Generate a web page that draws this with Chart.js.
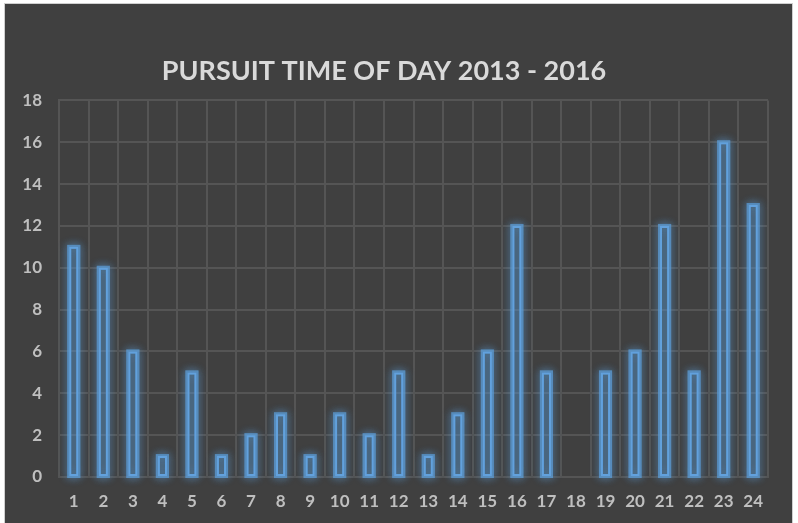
<!DOCTYPE html>
<html><head><meta charset="utf-8">
<script src="https://cdn.jsdelivr.net/npm/chart.js@4/dist/chart.umd.min.js"></script>
<style>
html,body{margin:0;padding:0;background:#ffffff;width:798px;height:523px;overflow:hidden}
#frame{position:absolute;left:4px;top:3px;width:787px;height:520px;background:#404040;border:1px solid #cfcfcf;border-bottom:none}
#c{position:absolute;left:0;top:0}
</style></head>
<body>
<div id="frame"></div>
<canvas id="c" width="798" height="523"></canvas>
<script>
const hours = ['1','2','3','4','5','6','7','8','9','10','11','12','13','14','15','16','17','18','19','20','21','22','23','24'];
const pursuits = [11,10,6,1,5,1,2,3,1,3,2,5,1,3,6,12,5,0,5,6,12,5,16,13];
const yTicks = [0,2,4,6,8,10,12,14,16,18];
const titleText = 'PURSUIT TIME OF DAY 2013 - 2016';

const glow = {
  id:'glow',
  beforeDatasetsDraw(chart){
    const ctx = chart.ctx;
    chart.getDatasetMeta(0).data.forEach((el,i)=>{
      if(!pursuits[i]) return;
      const p = el.getProps(['x','y','base','width'],true);
      const left = p.x - p.width/2, top = Math.min(p.y,p.base), h = Math.abs(p.base-p.y);
      ctx.save();
      ctx.shadowColor='rgba(91,155,213,0.9)';
      ctx.shadowBlur=8;
      ctx.strokeStyle='rgba(91,155,213,0.5)';
      ctx.lineWidth=4;
      ctx.strokeRect(left,top,p.width,h);
      ctx.strokeRect(left,top,p.width,h);
      ctx.restore();
    });
  }
};

new Chart(document.getElementById('c'),{
  type:'bar',
  data:{labels:hours,datasets:[{data:pursuits,backgroundColor:'rgba(91,155,213,0.12)',borderColor:'#62a1dd',borderWidth:2,barPercentage:0.31,categoryPercentage:1,borderSkipped:false}]},
  options:{
    responsive:false,animation:false,
    layout:{padding:{left:0,right:30,top:0,bottom:0}},
    plugins:{
      legend:{display:false},tooltip:{enabled:false},
      title:{display:true,text:titleText,color:'#d9d9d9',font:{family:'Lato',size:27,weight:'bold'},padding:{top:55,bottom:13}}
    },
    scales:{
      x:{
        grid:{color:'#555555',lineWidth:2,drawTicks:false,offset:true},
        border:{color:'#555555',width:2},
        ticks:{color:'#bfbfbf',font:{family:'Lato',size:17,weight:'bold'},padding:14,maxRotation:0,autoSkip:false},
        afterFit(s){s.height=46;}
      },
      y:{
        min:0,max:18,
        afterBuildTicks(s){s.ticks=yTicks.map(v=>({value:v}));},
        grid:{color:'#555555',lineWidth:2,drawTicks:false},
        border:{color:'#555555',width:2},
        ticks:{color:'#bfbfbf',font:{family:'Lato',size:17,weight:'bold'},padding:17},
        afterFit(s){s.width=59;}
      }
    }
  },
  plugins:[glow]
});
</script>
</body></html>
